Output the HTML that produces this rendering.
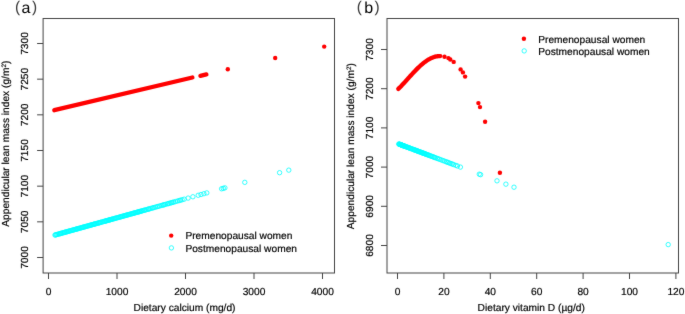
<!DOCTYPE html>
<html><head><meta charset="utf-8"><title>ALMI plots</title>
<style>html,body{margin:0;padding:0;background:#fff;width:685px;height:314px;overflow:hidden}
text{font-family:"Liberation Sans",sans-serif;text-rendering:geometricPrecision}</style></head>
<body>
<svg width="685" height="314" viewBox="0 0 685 314" style="display:block;will-change:transform">
<defs><filter id="soft" filterUnits="userSpaceOnUse" x="0" y="0" width="685" height="314" color-interpolation-filters="sRGB"><feConvolveMatrix order="3" kernelMatrix="1 6 1 6 72 6 1 6 1" edgeMode="duplicate" preserveAlpha="false"/></filter></defs>
<g filter="url(#soft)"><rect x="0" y="0" width="685" height="314" fill="#fff"/>
<g font-family="Liberation Sans, sans-serif" font-size="10.2" fill="#000" stroke="#000" stroke-width="0.18">
<rect x="43.1" y="18.5" width="291.40" height="254.50" fill="none" stroke="#444" stroke-width="1"/>
<line x1="37.10" y1="257.50" x2="43.10" y2="257.50" stroke="#444" stroke-width="1"/>
<text transform="translate(27.70,257.50) rotate(-90) scale(1.0,1)" text-anchor="middle">7000</text>
<line x1="37.10" y1="221.83" x2="43.10" y2="221.83" stroke="#444" stroke-width="1"/>
<text transform="translate(27.70,221.83) rotate(-90) scale(1.0,1)" text-anchor="middle">7050</text>
<line x1="37.10" y1="186.17" x2="43.10" y2="186.17" stroke="#444" stroke-width="1"/>
<text transform="translate(27.70,186.17) rotate(-90) scale(1.0,1)" text-anchor="middle">7100</text>
<line x1="37.10" y1="150.50" x2="43.10" y2="150.50" stroke="#444" stroke-width="1"/>
<text transform="translate(27.70,150.50) rotate(-90) scale(1.0,1)" text-anchor="middle">7150</text>
<line x1="37.10" y1="114.83" x2="43.10" y2="114.83" stroke="#444" stroke-width="1"/>
<text transform="translate(27.70,114.83) rotate(-90) scale(1.0,1)" text-anchor="middle">7200</text>
<line x1="37.10" y1="79.17" x2="43.10" y2="79.17" stroke="#444" stroke-width="1"/>
<text transform="translate(27.70,79.17) rotate(-90) scale(1.0,1)" text-anchor="middle">7250</text>
<line x1="37.10" y1="43.50" x2="43.10" y2="43.50" stroke="#444" stroke-width="1"/>
<text transform="translate(27.70,43.50) rotate(-90) scale(1.0,1)" text-anchor="middle">7300</text>
<line x1="48.50" y1="273.00" x2="48.50" y2="279.00" stroke="#444" stroke-width="1"/>
<text transform="translate(48.50,294.90) scale(1.0,1)" text-anchor="middle">0</text>
<line x1="117.00" y1="273.00" x2="117.00" y2="279.00" stroke="#444" stroke-width="1"/>
<text transform="translate(117.00,294.90) scale(1.0,1)" text-anchor="middle">1000</text>
<line x1="185.50" y1="273.00" x2="185.50" y2="279.00" stroke="#444" stroke-width="1"/>
<text transform="translate(185.50,294.90) scale(1.0,1)" text-anchor="middle">2000</text>
<line x1="254.00" y1="273.00" x2="254.00" y2="279.00" stroke="#444" stroke-width="1"/>
<text transform="translate(254.00,294.90) scale(1.0,1)" text-anchor="middle">3000</text>
<line x1="322.50" y1="273.00" x2="322.50" y2="279.00" stroke="#444" stroke-width="1"/>
<text transform="translate(322.50,294.90) scale(1.0,1)" text-anchor="middle">4000</text>
<text transform="translate(184.50,310.90) scale(1.0,1)" text-anchor="middle">Dietary calcium (mg/d)</text>
<text transform="translate(9.00,143.70) rotate(-90) scale(1.0,1)" text-anchor="middle">Appendicular lean mass index (g/m<tspan font-size="6.4" dy="-3.2">2</tspan><tspan dy="3.2">)</tspan></text>
<g font-size="16" stroke="none"><text x="15.0" y="12.3" font-size="15.4" fill="#3a3a3a">(</text><text x="21.4" y="12.6">a</text><text x="32.0" y="12.3" font-size="15.4" fill="#3a3a3a">)</text></g>
<line x1="54.3" y1="110.20" x2="192.4" y2="77.47" stroke="#ff0000" stroke-width="4.3" stroke-linecap="round"/>
<line x1="200.4" y1="75.8" x2="206.4" y2="74.4" stroke="#ff0000" stroke-width="4.3" stroke-linecap="round"/>
<circle cx="227.80" cy="69.30" r="2.2" fill="#ff0000" stroke="none"/>
<circle cx="275.20" cy="58.00" r="2.2" fill="#ff0000" stroke="none"/>
<circle cx="324.20" cy="46.60" r="2.2" fill="#ff0000" stroke="none"/>
<circle cx="55.00" cy="235.04" r="2.2" fill="none" stroke="#00ffff" stroke-width="0.8"/>
<circle cx="55.46" cy="234.91" r="2.2" fill="none" stroke="#00ffff" stroke-width="0.8"/>
<circle cx="56.32" cy="234.67" r="2.2" fill="none" stroke="#00ffff" stroke-width="0.8"/>
<circle cx="56.98" cy="234.49" r="2.2" fill="none" stroke="#00ffff" stroke-width="0.8"/>
<circle cx="57.81" cy="234.26" r="2.2" fill="none" stroke="#00ffff" stroke-width="0.8"/>
<circle cx="58.78" cy="233.99" r="2.2" fill="none" stroke="#00ffff" stroke-width="0.8"/>
<circle cx="59.50" cy="233.79" r="2.2" fill="none" stroke="#00ffff" stroke-width="0.8"/>
<circle cx="60.20" cy="233.60" r="2.2" fill="none" stroke="#00ffff" stroke-width="0.8"/>
<circle cx="60.66" cy="233.47" r="2.2" fill="none" stroke="#00ffff" stroke-width="0.8"/>
<circle cx="61.23" cy="233.31" r="2.2" fill="none" stroke="#00ffff" stroke-width="0.8"/>
<circle cx="61.93" cy="233.11" r="2.2" fill="none" stroke="#00ffff" stroke-width="0.8"/>
<circle cx="62.73" cy="232.89" r="2.2" fill="none" stroke="#00ffff" stroke-width="0.8"/>
<circle cx="63.60" cy="232.65" r="2.2" fill="none" stroke="#00ffff" stroke-width="0.8"/>
<circle cx="64.23" cy="232.48" r="2.2" fill="none" stroke="#00ffff" stroke-width="0.8"/>
<circle cx="64.69" cy="232.35" r="2.2" fill="none" stroke="#00ffff" stroke-width="0.8"/>
<circle cx="65.27" cy="232.19" r="2.2" fill="none" stroke="#00ffff" stroke-width="0.8"/>
<circle cx="66.20" cy="231.93" r="2.2" fill="none" stroke="#00ffff" stroke-width="0.8"/>
<circle cx="66.74" cy="231.78" r="2.2" fill="none" stroke="#00ffff" stroke-width="0.8"/>
<circle cx="67.41" cy="231.59" r="2.2" fill="none" stroke="#00ffff" stroke-width="0.8"/>
<circle cx="68.36" cy="231.33" r="2.2" fill="none" stroke="#00ffff" stroke-width="0.8"/>
<circle cx="68.79" cy="231.21" r="2.2" fill="none" stroke="#00ffff" stroke-width="0.8"/>
<circle cx="69.55" cy="231.00" r="2.2" fill="none" stroke="#00ffff" stroke-width="0.8"/>
<circle cx="70.50" cy="230.74" r="2.2" fill="none" stroke="#00ffff" stroke-width="0.8"/>
<circle cx="71.05" cy="230.58" r="2.2" fill="none" stroke="#00ffff" stroke-width="0.8"/>
<circle cx="71.77" cy="230.38" r="2.2" fill="none" stroke="#00ffff" stroke-width="0.8"/>
<circle cx="72.70" cy="230.12" r="2.2" fill="none" stroke="#00ffff" stroke-width="0.8"/>
<circle cx="73.20" cy="229.99" r="2.2" fill="none" stroke="#00ffff" stroke-width="0.8"/>
<circle cx="73.91" cy="229.79" r="2.2" fill="none" stroke="#00ffff" stroke-width="0.8"/>
<circle cx="74.75" cy="229.56" r="2.2" fill="none" stroke="#00ffff" stroke-width="0.8"/>
<circle cx="75.55" cy="229.34" r="2.2" fill="none" stroke="#00ffff" stroke-width="0.8"/>
<circle cx="76.23" cy="229.15" r="2.2" fill="none" stroke="#00ffff" stroke-width="0.8"/>
<circle cx="76.76" cy="229.00" r="2.2" fill="none" stroke="#00ffff" stroke-width="0.8"/>
<circle cx="77.46" cy="228.80" r="2.2" fill="none" stroke="#00ffff" stroke-width="0.8"/>
<circle cx="78.09" cy="228.63" r="2.2" fill="none" stroke="#00ffff" stroke-width="0.8"/>
<circle cx="78.77" cy="228.44" r="2.2" fill="none" stroke="#00ffff" stroke-width="0.8"/>
<circle cx="79.40" cy="228.27" r="2.2" fill="none" stroke="#00ffff" stroke-width="0.8"/>
<circle cx="80.29" cy="228.02" r="2.2" fill="none" stroke="#00ffff" stroke-width="0.8"/>
<circle cx="81.14" cy="227.78" r="2.2" fill="none" stroke="#00ffff" stroke-width="0.8"/>
<circle cx="81.73" cy="227.62" r="2.2" fill="none" stroke="#00ffff" stroke-width="0.8"/>
<circle cx="82.47" cy="227.41" r="2.2" fill="none" stroke="#00ffff" stroke-width="0.8"/>
<circle cx="83.05" cy="227.25" r="2.2" fill="none" stroke="#00ffff" stroke-width="0.8"/>
<circle cx="83.72" cy="227.07" r="2.2" fill="none" stroke="#00ffff" stroke-width="0.8"/>
<circle cx="84.34" cy="226.89" r="2.2" fill="none" stroke="#00ffff" stroke-width="0.8"/>
<circle cx="85.13" cy="226.68" r="2.2" fill="none" stroke="#00ffff" stroke-width="0.8"/>
<circle cx="85.76" cy="226.50" r="2.2" fill="none" stroke="#00ffff" stroke-width="0.8"/>
<circle cx="86.43" cy="226.31" r="2.2" fill="none" stroke="#00ffff" stroke-width="0.8"/>
<circle cx="87.26" cy="226.08" r="2.2" fill="none" stroke="#00ffff" stroke-width="0.8"/>
<circle cx="87.91" cy="225.90" r="2.2" fill="none" stroke="#00ffff" stroke-width="0.8"/>
<circle cx="88.83" cy="225.65" r="2.2" fill="none" stroke="#00ffff" stroke-width="0.8"/>
<circle cx="89.36" cy="225.50" r="2.2" fill="none" stroke="#00ffff" stroke-width="0.8"/>
<circle cx="90.19" cy="225.27" r="2.2" fill="none" stroke="#00ffff" stroke-width="0.8"/>
<circle cx="90.85" cy="225.09" r="2.2" fill="none" stroke="#00ffff" stroke-width="0.8"/>
<circle cx="91.51" cy="224.90" r="2.2" fill="none" stroke="#00ffff" stroke-width="0.8"/>
<circle cx="92.28" cy="224.69" r="2.2" fill="none" stroke="#00ffff" stroke-width="0.8"/>
<circle cx="92.99" cy="224.49" r="2.2" fill="none" stroke="#00ffff" stroke-width="0.8"/>
<circle cx="93.65" cy="224.31" r="2.2" fill="none" stroke="#00ffff" stroke-width="0.8"/>
<circle cx="94.07" cy="224.19" r="2.2" fill="none" stroke="#00ffff" stroke-width="0.8"/>
<circle cx="94.54" cy="224.06" r="2.2" fill="none" stroke="#00ffff" stroke-width="0.8"/>
<circle cx="95.36" cy="223.84" r="2.2" fill="none" stroke="#00ffff" stroke-width="0.8"/>
<circle cx="96.07" cy="223.64" r="2.2" fill="none" stroke="#00ffff" stroke-width="0.8"/>
<circle cx="96.88" cy="223.41" r="2.2" fill="none" stroke="#00ffff" stroke-width="0.8"/>
<circle cx="97.84" cy="223.15" r="2.2" fill="none" stroke="#00ffff" stroke-width="0.8"/>
<circle cx="98.64" cy="222.93" r="2.2" fill="none" stroke="#00ffff" stroke-width="0.8"/>
<circle cx="99.09" cy="222.80" r="2.2" fill="none" stroke="#00ffff" stroke-width="0.8"/>
<circle cx="99.68" cy="222.64" r="2.2" fill="none" stroke="#00ffff" stroke-width="0.8"/>
<circle cx="100.43" cy="222.43" r="2.2" fill="none" stroke="#00ffff" stroke-width="0.8"/>
<circle cx="100.98" cy="222.27" r="2.2" fill="none" stroke="#00ffff" stroke-width="0.8"/>
<circle cx="101.94" cy="222.01" r="2.2" fill="none" stroke="#00ffff" stroke-width="0.8"/>
<circle cx="102.89" cy="221.74" r="2.2" fill="none" stroke="#00ffff" stroke-width="0.8"/>
<circle cx="103.79" cy="221.50" r="2.2" fill="none" stroke="#00ffff" stroke-width="0.8"/>
<circle cx="104.47" cy="221.31" r="2.2" fill="none" stroke="#00ffff" stroke-width="0.8"/>
<circle cx="105.36" cy="221.06" r="2.2" fill="none" stroke="#00ffff" stroke-width="0.8"/>
<circle cx="105.86" cy="220.92" r="2.2" fill="none" stroke="#00ffff" stroke-width="0.8"/>
<circle cx="106.45" cy="220.76" r="2.2" fill="none" stroke="#00ffff" stroke-width="0.8"/>
<circle cx="107.13" cy="220.57" r="2.2" fill="none" stroke="#00ffff" stroke-width="0.8"/>
<circle cx="107.97" cy="220.34" r="2.2" fill="none" stroke="#00ffff" stroke-width="0.8"/>
<circle cx="108.66" cy="220.14" r="2.2" fill="none" stroke="#00ffff" stroke-width="0.8"/>
<circle cx="109.15" cy="220.01" r="2.2" fill="none" stroke="#00ffff" stroke-width="0.8"/>
<circle cx="109.77" cy="219.84" r="2.2" fill="none" stroke="#00ffff" stroke-width="0.8"/>
<circle cx="110.37" cy="219.67" r="2.2" fill="none" stroke="#00ffff" stroke-width="0.8"/>
<circle cx="110.96" cy="219.51" r="2.2" fill="none" stroke="#00ffff" stroke-width="0.8"/>
<circle cx="111.47" cy="219.36" r="2.2" fill="none" stroke="#00ffff" stroke-width="0.8"/>
<circle cx="112.12" cy="219.18" r="2.2" fill="none" stroke="#00ffff" stroke-width="0.8"/>
<circle cx="112.79" cy="219.00" r="2.2" fill="none" stroke="#00ffff" stroke-width="0.8"/>
<circle cx="113.65" cy="218.76" r="2.2" fill="none" stroke="#00ffff" stroke-width="0.8"/>
<circle cx="114.51" cy="218.52" r="2.2" fill="none" stroke="#00ffff" stroke-width="0.8"/>
<circle cx="115.22" cy="218.32" r="2.2" fill="none" stroke="#00ffff" stroke-width="0.8"/>
<circle cx="115.90" cy="218.13" r="2.2" fill="none" stroke="#00ffff" stroke-width="0.8"/>
<circle cx="116.76" cy="217.89" r="2.2" fill="none" stroke="#00ffff" stroke-width="0.8"/>
<circle cx="117.68" cy="217.64" r="2.2" fill="none" stroke="#00ffff" stroke-width="0.8"/>
<circle cx="118.47" cy="217.42" r="2.2" fill="none" stroke="#00ffff" stroke-width="0.8"/>
<circle cx="119.34" cy="217.18" r="2.2" fill="none" stroke="#00ffff" stroke-width="0.8"/>
<circle cx="120.29" cy="216.92" r="2.2" fill="none" stroke="#00ffff" stroke-width="0.8"/>
<circle cx="120.73" cy="216.79" r="2.2" fill="none" stroke="#00ffff" stroke-width="0.8"/>
<circle cx="121.64" cy="216.54" r="2.2" fill="none" stroke="#00ffff" stroke-width="0.8"/>
<circle cx="122.22" cy="216.38" r="2.2" fill="none" stroke="#00ffff" stroke-width="0.8"/>
<circle cx="122.90" cy="216.19" r="2.2" fill="none" stroke="#00ffff" stroke-width="0.8"/>
<circle cx="123.77" cy="215.95" r="2.2" fill="none" stroke="#00ffff" stroke-width="0.8"/>
<circle cx="124.59" cy="215.72" r="2.2" fill="none" stroke="#00ffff" stroke-width="0.8"/>
<circle cx="125.09" cy="215.58" r="2.2" fill="none" stroke="#00ffff" stroke-width="0.8"/>
<circle cx="125.88" cy="215.36" r="2.2" fill="none" stroke="#00ffff" stroke-width="0.8"/>
<circle cx="126.34" cy="215.23" r="2.2" fill="none" stroke="#00ffff" stroke-width="0.8"/>
<circle cx="126.96" cy="215.06" r="2.2" fill="none" stroke="#00ffff" stroke-width="0.8"/>
<circle cx="127.83" cy="214.82" r="2.2" fill="none" stroke="#00ffff" stroke-width="0.8"/>
<circle cx="128.49" cy="214.64" r="2.2" fill="none" stroke="#00ffff" stroke-width="0.8"/>
<circle cx="129.25" cy="214.43" r="2.2" fill="none" stroke="#00ffff" stroke-width="0.8"/>
<circle cx="130.08" cy="214.20" r="2.2" fill="none" stroke="#00ffff" stroke-width="0.8"/>
<circle cx="130.96" cy="213.95" r="2.2" fill="none" stroke="#00ffff" stroke-width="0.8"/>
<circle cx="131.80" cy="213.72" r="2.2" fill="none" stroke="#00ffff" stroke-width="0.8"/>
<circle cx="132.23" cy="213.60" r="2.2" fill="none" stroke="#00ffff" stroke-width="0.8"/>
<circle cx="132.88" cy="213.42" r="2.2" fill="none" stroke="#00ffff" stroke-width="0.8"/>
<circle cx="133.56" cy="213.23" r="2.2" fill="none" stroke="#00ffff" stroke-width="0.8"/>
<circle cx="134.01" cy="213.10" r="2.2" fill="none" stroke="#00ffff" stroke-width="0.8"/>
<circle cx="134.74" cy="212.90" r="2.2" fill="none" stroke="#00ffff" stroke-width="0.8"/>
<circle cx="135.50" cy="212.69" r="2.2" fill="none" stroke="#00ffff" stroke-width="0.8"/>
<circle cx="136.38" cy="212.45" r="2.2" fill="none" stroke="#00ffff" stroke-width="0.8"/>
<circle cx="137.33" cy="212.18" r="2.2" fill="none" stroke="#00ffff" stroke-width="0.8"/>
<circle cx="137.82" cy="212.05" r="2.2" fill="none" stroke="#00ffff" stroke-width="0.8"/>
<circle cx="138.37" cy="211.90" r="2.2" fill="none" stroke="#00ffff" stroke-width="0.8"/>
<circle cx="139.16" cy="211.68" r="2.2" fill="none" stroke="#00ffff" stroke-width="0.8"/>
<circle cx="139.65" cy="211.54" r="2.2" fill="none" stroke="#00ffff" stroke-width="0.8"/>
<circle cx="140.20" cy="211.39" r="2.2" fill="none" stroke="#00ffff" stroke-width="0.8"/>
<circle cx="141.05" cy="211.15" r="2.2" fill="none" stroke="#00ffff" stroke-width="0.8"/>
<circle cx="141.66" cy="210.98" r="2.2" fill="none" stroke="#00ffff" stroke-width="0.8"/>
<circle cx="142.69" cy="210.69" r="2.2" fill="none" stroke="#00ffff" stroke-width="0.8"/>
<circle cx="143.81" cy="210.38" r="2.2" fill="none" stroke="#00ffff" stroke-width="0.8"/>
<circle cx="144.38" cy="210.23" r="2.2" fill="none" stroke="#00ffff" stroke-width="0.8"/>
<circle cx="145.31" cy="209.97" r="2.2" fill="none" stroke="#00ffff" stroke-width="0.8"/>
<circle cx="146.48" cy="209.64" r="2.2" fill="none" stroke="#00ffff" stroke-width="0.8"/>
<circle cx="147.81" cy="209.27" r="2.2" fill="none" stroke="#00ffff" stroke-width="0.8"/>
<circle cx="148.64" cy="209.05" r="2.2" fill="none" stroke="#00ffff" stroke-width="0.8"/>
<circle cx="149.39" cy="208.84" r="2.2" fill="none" stroke="#00ffff" stroke-width="0.8"/>
<circle cx="150.75" cy="208.46" r="2.2" fill="none" stroke="#00ffff" stroke-width="0.8"/>
<circle cx="152.18" cy="208.06" r="2.2" fill="none" stroke="#00ffff" stroke-width="0.8"/>
<circle cx="153.03" cy="207.83" r="2.2" fill="none" stroke="#00ffff" stroke-width="0.8"/>
<circle cx="154.12" cy="207.52" r="2.2" fill="none" stroke="#00ffff" stroke-width="0.8"/>
<circle cx="155.49" cy="207.14" r="2.2" fill="none" stroke="#00ffff" stroke-width="0.8"/>
<circle cx="157.03" cy="206.72" r="2.2" fill="none" stroke="#00ffff" stroke-width="0.8"/>
<circle cx="157.94" cy="206.46" r="2.2" fill="none" stroke="#00ffff" stroke-width="0.8"/>
<circle cx="159.38" cy="206.06" r="2.2" fill="none" stroke="#00ffff" stroke-width="0.8"/>
<circle cx="161.00" cy="205.61" r="2.2" fill="none" stroke="#00ffff" stroke-width="0.8"/>
<circle cx="162.41" cy="205.22" r="2.2" fill="none" stroke="#00ffff" stroke-width="0.8"/>
<circle cx="163.42" cy="204.94" r="2.2" fill="none" stroke="#00ffff" stroke-width="0.8"/>
<circle cx="164.31" cy="204.70" r="2.2" fill="none" stroke="#00ffff" stroke-width="0.8"/>
<circle cx="165.49" cy="204.37" r="2.2" fill="none" stroke="#00ffff" stroke-width="0.8"/>
<circle cx="167.31" cy="203.86" r="2.2" fill="none" stroke="#00ffff" stroke-width="0.8"/>
<circle cx="168.28" cy="203.59" r="2.2" fill="none" stroke="#00ffff" stroke-width="0.8"/>
<circle cx="169.21" cy="203.33" r="2.2" fill="none" stroke="#00ffff" stroke-width="0.8"/>
<circle cx="170.60" cy="202.95" r="2.2" fill="none" stroke="#00ffff" stroke-width="0.8"/>
<circle cx="171.64" cy="202.66" r="2.2" fill="none" stroke="#00ffff" stroke-width="0.8"/>
<circle cx="172.81" cy="202.34" r="2.2" fill="none" stroke="#00ffff" stroke-width="0.8"/>
<circle cx="173.83" cy="202.05" r="2.2" fill="none" stroke="#00ffff" stroke-width="0.8"/>
<circle cx="175.55" cy="201.57" r="2.2" fill="none" stroke="#00ffff" stroke-width="0.8"/>
<circle cx="177.55" cy="201.02" r="2.2" fill="none" stroke="#00ffff" stroke-width="0.8"/>
<circle cx="179.22" cy="200.55" r="2.2" fill="none" stroke="#00ffff" stroke-width="0.8"/>
<circle cx="180.51" cy="200.20" r="2.2" fill="none" stroke="#00ffff" stroke-width="0.8"/>
<circle cx="182.12" cy="199.75" r="2.2" fill="none" stroke="#00ffff" stroke-width="0.8"/>
<circle cx="184.16" cy="199.19" r="2.2" fill="none" stroke="#00ffff" stroke-width="0.8"/>
<circle cx="188.10" cy="198.09" r="2.2" fill="none" stroke="#00ffff" stroke-width="0.8"/>
<circle cx="192.90" cy="196.76" r="2.2" fill="none" stroke="#00ffff" stroke-width="0.8"/>
<circle cx="198.20" cy="195.29" r="2.2" fill="none" stroke="#00ffff" stroke-width="0.8"/>
<circle cx="201.00" cy="194.51" r="2.2" fill="none" stroke="#00ffff" stroke-width="0.8"/>
<circle cx="203.90" cy="193.70" r="2.2" fill="none" stroke="#00ffff" stroke-width="0.8"/>
<circle cx="206.80" cy="192.90" r="2.2" fill="none" stroke="#00ffff" stroke-width="0.8"/>
<circle cx="221.60" cy="188.79" r="2.2" fill="none" stroke="#00ffff" stroke-width="0.8"/>
<circle cx="223.30" cy="188.32" r="2.2" fill="none" stroke="#00ffff" stroke-width="0.8"/>
<circle cx="224.90" cy="187.87" r="2.2" fill="none" stroke="#00ffff" stroke-width="0.8"/>
<circle cx="244.80" cy="182.35" r="2.2" fill="none" stroke="#00ffff" stroke-width="0.8"/>
<circle cx="279.60" cy="172.69" r="2.2" fill="none" stroke="#00ffff" stroke-width="0.8"/>
<circle cx="288.80" cy="170.14" r="2.2" fill="none" stroke="#00ffff" stroke-width="0.8"/>
<circle cx="171.20" cy="235.60" r="2.2" fill="#ff0000" stroke="none"/>
<circle cx="171.40" cy="247.90" r="2.2" fill="none" stroke="#00ffff" stroke-width="0.8"/>
<text transform="translate(185.40,239.10) scale(1.0,1)">Premenopausal women</text>
<text transform="translate(185.40,251.60) scale(1.0,1)">Postmenopausal women</text>
<rect x="387.0" y="18.5" width="291.50" height="254.50" fill="none" stroke="#444" stroke-width="1"/>
<line x1="381.00" y1="245.50" x2="387.00" y2="245.50" stroke="#444" stroke-width="1"/>
<text transform="translate(372.70,245.50) rotate(-90) scale(1.0,1)" text-anchor="middle">6800</text>
<line x1="381.00" y1="206.30" x2="387.00" y2="206.30" stroke="#444" stroke-width="1"/>
<text transform="translate(372.70,206.30) rotate(-90) scale(1.0,1)" text-anchor="middle">6900</text>
<line x1="381.00" y1="167.10" x2="387.00" y2="167.10" stroke="#444" stroke-width="1"/>
<text transform="translate(372.70,167.10) rotate(-90) scale(1.0,1)" text-anchor="middle">7000</text>
<line x1="381.00" y1="127.90" x2="387.00" y2="127.90" stroke="#444" stroke-width="1"/>
<text transform="translate(372.70,127.90) rotate(-90) scale(1.0,1)" text-anchor="middle">7100</text>
<line x1="381.00" y1="88.70" x2="387.00" y2="88.70" stroke="#444" stroke-width="1"/>
<text transform="translate(372.70,88.70) rotate(-90) scale(1.0,1)" text-anchor="middle">7200</text>
<line x1="381.00" y1="49.50" x2="387.00" y2="49.50" stroke="#444" stroke-width="1"/>
<text transform="translate(372.70,49.50) rotate(-90) scale(1.0,1)" text-anchor="middle">7300</text>
<line x1="397.50" y1="273.00" x2="397.50" y2="279.00" stroke="#444" stroke-width="1"/>
<text transform="translate(397.50,294.90) scale(1.0,1)" text-anchor="middle">0</text>
<line x1="443.90" y1="273.00" x2="443.90" y2="279.00" stroke="#444" stroke-width="1"/>
<text transform="translate(443.90,294.90) scale(1.0,1)" text-anchor="middle">20</text>
<line x1="490.30" y1="273.00" x2="490.30" y2="279.00" stroke="#444" stroke-width="1"/>
<text transform="translate(490.30,294.90) scale(1.0,1)" text-anchor="middle">40</text>
<line x1="536.70" y1="273.00" x2="536.70" y2="279.00" stroke="#444" stroke-width="1"/>
<text transform="translate(536.70,294.90) scale(1.0,1)" text-anchor="middle">60</text>
<line x1="583.10" y1="273.00" x2="583.10" y2="279.00" stroke="#444" stroke-width="1"/>
<text transform="translate(583.10,294.90) scale(1.0,1)" text-anchor="middle">80</text>
<line x1="629.50" y1="273.00" x2="629.50" y2="279.00" stroke="#444" stroke-width="1"/>
<text transform="translate(629.50,294.90) scale(1.0,1)" text-anchor="middle">100</text>
<line x1="675.90" y1="273.00" x2="675.90" y2="279.00" stroke="#444" stroke-width="1"/>
<text transform="translate(675.90,294.90) scale(1.0,1)" text-anchor="middle">120</text>
<text transform="translate(531.20,310.90) scale(1.0,1)" text-anchor="middle">Dietary vitamin D (µg/d)</text>
<text transform="translate(353.80,146.20) rotate(-90) scale(1.0,1)" text-anchor="middle">Appendicular lean mass index (g/m<tspan font-size="6.4" dy="-3.2">2</tspan><tspan dy="3.2">)</tspan></text>
<g font-size="16" stroke="none"><text x="356.7" y="12.3" font-size="15.4" fill="#3a3a3a">(</text><text x="364.2" y="12.6">b</text><text x="374.5" y="12.3" font-size="15.4" fill="#3a3a3a">)</text></g>
<polyline points="398.3,88.88 399.3,87.91 400.3,86.91 401.3,85.89 402.3,84.84 403.3,83.77 404.3,82.69 405.3,81.59 406.3,80.49 407.3,79.37 408.3,78.26 409.3,77.15 410.3,76.04 411.3,74.94 412.3,73.85 413.3,72.77 414.3,71.7 415.3,70.65 416.3,69.63 417.3,68.62 418.3,67.64 419.3,66.69 420.3,65.77 421.3,64.88 422.3,64.02 423.3,63.19 424.3,62.41 425.3,61.66 426.3,60.95 427.3,60.29 428.3,59.67 429.3,59.09 430.3,58.56 431.3,58.08 432.3,57.65 433.3,57.27 434.3,56.94 435.3,56.66 436.3,56.43 437.3,56.26 438.3,56.15 439.3,56.09 440.3,56.09" fill="none" stroke="#ff0000" stroke-width="4.3" stroke-linecap="round" stroke-linejoin="round"/>
<circle cx="444.50" cy="56.80" r="2.2" fill="#ff0000" stroke="none"/>
<circle cx="448.40" cy="58.10" r="2.2" fill="#ff0000" stroke="none"/>
<circle cx="450.30" cy="59.50" r="2.2" fill="#ff0000" stroke="none"/>
<circle cx="453.70" cy="61.90" r="2.2" fill="#ff0000" stroke="none"/>
<circle cx="460.60" cy="69.40" r="2.2" fill="#ff0000" stroke="none"/>
<circle cx="462.90" cy="72.40" r="2.2" fill="#ff0000" stroke="none"/>
<circle cx="465.10" cy="76.60" r="2.2" fill="#ff0000" stroke="none"/>
<circle cx="478.40" cy="103.10" r="2.2" fill="#ff0000" stroke="none"/>
<circle cx="480.00" cy="107.10" r="2.2" fill="#ff0000" stroke="none"/>
<circle cx="485.10" cy="121.70" r="2.2" fill="#ff0000" stroke="none"/>
<circle cx="499.90" cy="172.80" r="2.2" fill="#ff0000" stroke="none"/>
<circle cx="398.80" cy="144.00" r="2.2" fill="none" stroke="#00ffff" stroke-width="0.8"/>
<circle cx="399.11" cy="144.12" r="2.2" fill="none" stroke="#00ffff" stroke-width="0.8"/>
<circle cx="399.46" cy="144.25" r="2.2" fill="none" stroke="#00ffff" stroke-width="0.8"/>
<circle cx="399.71" cy="144.34" r="2.2" fill="none" stroke="#00ffff" stroke-width="0.8"/>
<circle cx="400.01" cy="144.46" r="2.2" fill="none" stroke="#00ffff" stroke-width="0.8"/>
<circle cx="400.41" cy="144.60" r="2.2" fill="none" stroke="#00ffff" stroke-width="0.8"/>
<circle cx="400.80" cy="144.75" r="2.2" fill="none" stroke="#00ffff" stroke-width="0.8"/>
<circle cx="401.01" cy="144.83" r="2.2" fill="none" stroke="#00ffff" stroke-width="0.8"/>
<circle cx="401.24" cy="144.92" r="2.2" fill="none" stroke="#00ffff" stroke-width="0.8"/>
<circle cx="401.44" cy="144.99" r="2.2" fill="none" stroke="#00ffff" stroke-width="0.8"/>
<circle cx="401.72" cy="145.10" r="2.2" fill="none" stroke="#00ffff" stroke-width="0.8"/>
<circle cx="401.91" cy="145.17" r="2.2" fill="none" stroke="#00ffff" stroke-width="0.8"/>
<circle cx="402.20" cy="145.27" r="2.2" fill="none" stroke="#00ffff" stroke-width="0.8"/>
<circle cx="402.53" cy="145.40" r="2.2" fill="none" stroke="#00ffff" stroke-width="0.8"/>
<circle cx="402.78" cy="145.49" r="2.2" fill="none" stroke="#00ffff" stroke-width="0.8"/>
<circle cx="403.12" cy="145.62" r="2.2" fill="none" stroke="#00ffff" stroke-width="0.8"/>
<circle cx="403.45" cy="145.74" r="2.2" fill="none" stroke="#00ffff" stroke-width="0.8"/>
<circle cx="403.63" cy="145.81" r="2.2" fill="none" stroke="#00ffff" stroke-width="0.8"/>
<circle cx="403.95" cy="145.93" r="2.2" fill="none" stroke="#00ffff" stroke-width="0.8"/>
<circle cx="404.19" cy="146.02" r="2.2" fill="none" stroke="#00ffff" stroke-width="0.8"/>
<circle cx="404.75" cy="146.23" r="2.2" fill="none" stroke="#00ffff" stroke-width="0.8"/>
<circle cx="405.24" cy="146.42" r="2.2" fill="none" stroke="#00ffff" stroke-width="0.8"/>
<circle cx="405.94" cy="146.68" r="2.2" fill="none" stroke="#00ffff" stroke-width="0.8"/>
<circle cx="406.51" cy="146.89" r="2.2" fill="none" stroke="#00ffff" stroke-width="0.8"/>
<circle cx="406.94" cy="147.05" r="2.2" fill="none" stroke="#00ffff" stroke-width="0.8"/>
<circle cx="407.56" cy="147.29" r="2.2" fill="none" stroke="#00ffff" stroke-width="0.8"/>
<circle cx="408.30" cy="147.56" r="2.2" fill="none" stroke="#00ffff" stroke-width="0.8"/>
<circle cx="408.81" cy="147.75" r="2.2" fill="none" stroke="#00ffff" stroke-width="0.8"/>
<circle cx="409.27" cy="147.93" r="2.2" fill="none" stroke="#00ffff" stroke-width="0.8"/>
<circle cx="409.82" cy="148.13" r="2.2" fill="none" stroke="#00ffff" stroke-width="0.8"/>
<circle cx="410.63" cy="148.44" r="2.2" fill="none" stroke="#00ffff" stroke-width="0.8"/>
<circle cx="411.46" cy="148.75" r="2.2" fill="none" stroke="#00ffff" stroke-width="0.8"/>
<circle cx="412.14" cy="149.00" r="2.2" fill="none" stroke="#00ffff" stroke-width="0.8"/>
<circle cx="412.93" cy="149.30" r="2.2" fill="none" stroke="#00ffff" stroke-width="0.8"/>
<circle cx="413.70" cy="149.59" r="2.2" fill="none" stroke="#00ffff" stroke-width="0.8"/>
<circle cx="414.24" cy="149.79" r="2.2" fill="none" stroke="#00ffff" stroke-width="0.8"/>
<circle cx="414.64" cy="149.94" r="2.2" fill="none" stroke="#00ffff" stroke-width="0.8"/>
<circle cx="415.32" cy="150.19" r="2.2" fill="none" stroke="#00ffff" stroke-width="0.8"/>
<circle cx="415.95" cy="150.43" r="2.2" fill="none" stroke="#00ffff" stroke-width="0.8"/>
<circle cx="416.48" cy="150.63" r="2.2" fill="none" stroke="#00ffff" stroke-width="0.8"/>
<circle cx="416.95" cy="150.81" r="2.2" fill="none" stroke="#00ffff" stroke-width="0.8"/>
<circle cx="417.50" cy="151.01" r="2.2" fill="none" stroke="#00ffff" stroke-width="0.8"/>
<circle cx="418.09" cy="151.23" r="2.2" fill="none" stroke="#00ffff" stroke-width="0.8"/>
<circle cx="418.58" cy="151.42" r="2.2" fill="none" stroke="#00ffff" stroke-width="0.8"/>
<circle cx="419.08" cy="151.60" r="2.2" fill="none" stroke="#00ffff" stroke-width="0.8"/>
<circle cx="419.66" cy="151.82" r="2.2" fill="none" stroke="#00ffff" stroke-width="0.8"/>
<circle cx="420.43" cy="152.11" r="2.2" fill="none" stroke="#00ffff" stroke-width="0.8"/>
<circle cx="421.07" cy="152.35" r="2.2" fill="none" stroke="#00ffff" stroke-width="0.8"/>
<circle cx="421.57" cy="152.54" r="2.2" fill="none" stroke="#00ffff" stroke-width="0.8"/>
<circle cx="422.06" cy="152.72" r="2.2" fill="none" stroke="#00ffff" stroke-width="0.8"/>
<circle cx="422.64" cy="152.94" r="2.2" fill="none" stroke="#00ffff" stroke-width="0.8"/>
<circle cx="423.10" cy="153.11" r="2.2" fill="none" stroke="#00ffff" stroke-width="0.8"/>
<circle cx="423.55" cy="153.28" r="2.2" fill="none" stroke="#00ffff" stroke-width="0.8"/>
<circle cx="424.16" cy="153.51" r="2.2" fill="none" stroke="#00ffff" stroke-width="0.8"/>
<circle cx="424.56" cy="153.66" r="2.2" fill="none" stroke="#00ffff" stroke-width="0.8"/>
<circle cx="425.15" cy="153.88" r="2.2" fill="none" stroke="#00ffff" stroke-width="0.8"/>
<circle cx="425.69" cy="154.08" r="2.2" fill="none" stroke="#00ffff" stroke-width="0.8"/>
<circle cx="426.39" cy="154.35" r="2.2" fill="none" stroke="#00ffff" stroke-width="0.8"/>
<circle cx="427.11" cy="154.61" r="2.2" fill="none" stroke="#00ffff" stroke-width="0.8"/>
<circle cx="427.80" cy="154.87" r="2.2" fill="none" stroke="#00ffff" stroke-width="0.8"/>
<circle cx="428.49" cy="155.13" r="2.2" fill="none" stroke="#00ffff" stroke-width="0.8"/>
<circle cx="429.23" cy="155.41" r="2.2" fill="none" stroke="#00ffff" stroke-width="0.8"/>
<circle cx="430.21" cy="155.78" r="2.2" fill="none" stroke="#00ffff" stroke-width="0.8"/>
<circle cx="431.00" cy="156.07" r="2.2" fill="none" stroke="#00ffff" stroke-width="0.8"/>
<circle cx="432.00" cy="156.45" r="2.2" fill="none" stroke="#00ffff" stroke-width="0.8"/>
<circle cx="432.86" cy="156.77" r="2.2" fill="none" stroke="#00ffff" stroke-width="0.8"/>
<circle cx="433.85" cy="157.15" r="2.2" fill="none" stroke="#00ffff" stroke-width="0.8"/>
<circle cx="434.56" cy="157.41" r="2.2" fill="none" stroke="#00ffff" stroke-width="0.8"/>
<circle cx="435.45" cy="157.75" r="2.2" fill="none" stroke="#00ffff" stroke-width="0.8"/>
<circle cx="437.06" cy="158.35" r="2.2" fill="none" stroke="#00ffff" stroke-width="0.8"/>
<circle cx="438.04" cy="158.72" r="2.2" fill="none" stroke="#00ffff" stroke-width="0.8"/>
<circle cx="439.54" cy="159.28" r="2.2" fill="none" stroke="#00ffff" stroke-width="0.8"/>
<circle cx="441.07" cy="159.85" r="2.2" fill="none" stroke="#00ffff" stroke-width="0.8"/>
<circle cx="442.78" cy="160.49" r="2.2" fill="none" stroke="#00ffff" stroke-width="0.8"/>
<circle cx="444.27" cy="161.05" r="2.2" fill="none" stroke="#00ffff" stroke-width="0.8"/>
<circle cx="446.00" cy="161.70" r="2.2" fill="none" stroke="#00ffff" stroke-width="0.8"/>
<circle cx="447.11" cy="162.11" r="2.2" fill="none" stroke="#00ffff" stroke-width="0.8"/>
<circle cx="448.25" cy="162.55" r="2.2" fill="none" stroke="#00ffff" stroke-width="0.8"/>
<circle cx="449.62" cy="163.06" r="2.2" fill="none" stroke="#00ffff" stroke-width="0.8"/>
<circle cx="450.97" cy="163.56" r="2.2" fill="none" stroke="#00ffff" stroke-width="0.8"/>
<circle cx="452.28" cy="164.06" r="2.2" fill="none" stroke="#00ffff" stroke-width="0.8"/>
<circle cx="453.69" cy="164.58" r="2.2" fill="none" stroke="#00ffff" stroke-width="0.8"/>
<circle cx="455.85" cy="165.39" r="2.2" fill="none" stroke="#00ffff" stroke-width="0.8"/>
<circle cx="457.48" cy="166.00" r="2.2" fill="none" stroke="#00ffff" stroke-width="0.8"/>
<circle cx="460.40" cy="167.10" r="2.2" fill="none" stroke="#00ffff" stroke-width="0.8"/>
<circle cx="479.30" cy="174.19" r="2.2" fill="none" stroke="#00ffff" stroke-width="0.8"/>
<circle cx="480.60" cy="174.68" r="2.2" fill="none" stroke="#00ffff" stroke-width="0.8"/>
<circle cx="497.00" cy="180.82" r="2.2" fill="none" stroke="#00ffff" stroke-width="0.8"/>
<circle cx="505.90" cy="184.16" r="2.2" fill="none" stroke="#00ffff" stroke-width="0.8"/>
<circle cx="514.00" cy="187.20" r="2.2" fill="none" stroke="#00ffff" stroke-width="0.8"/>
<circle cx="668.20" cy="244.60" r="2.2" fill="none" stroke="#00ffff" stroke-width="0.8"/>
<circle cx="523.90" cy="38.80" r="2.2" fill="#ff0000" stroke="none"/>
<circle cx="524.20" cy="50.90" r="2.2" fill="none" stroke="#00ffff" stroke-width="0.8"/>
<text transform="translate(538.20,42.60) scale(1.0,1)">Premenopausal women</text>
<text transform="translate(538.20,54.60) scale(1.0,1)">Postmenopausal women</text>
</g></g></svg>
</body></html>
